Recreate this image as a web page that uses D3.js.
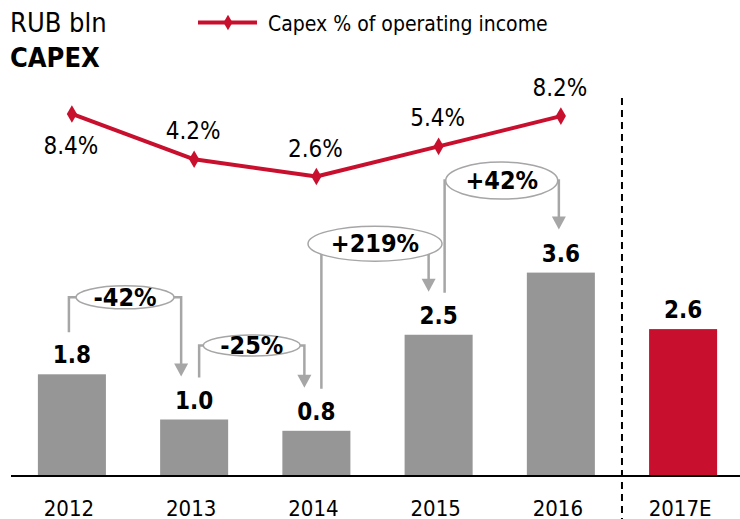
<!DOCTYPE html>
<html>
<head>
<meta charset="utf-8">
<script src="https://cdn.jsdelivr.net/npm/d3@7"></script>
<style>
  html, body { margin: 0; padding: 0; background: #fff; }
  svg { display: block; font-family: "DejaVu Sans Condensed", "DejaVu Sans", sans-serif; font-stretch: condensed; }
</style>
</head>
<body>
<svg id="chart" width="740" height="519"></svg>
<script>
// CAPEX, RUB bln
const years = ["2012", "2013", "2014", "2015", "2016", "2017E"];
const capex = [1.8, 1.0, 0.8, 2.5, 3.6, 2.6];
const estimateYear = "2017E";

// Capex as % of operating income (actual years only)
const pctYears = ["2012", "2013", "2014", "2015", "2016"];
const pctValues = [8.4, 4.2, 2.6, 5.4, 8.2];

// Year-on-year change callouts
const changeFrom = ["2012", "2013", "2014", "2015"];
const changeTo = ["2013", "2014", "2015", "2016"];
const changeLabels = ["-42%", "-25%", "+219%", "+42%"];

const RED = "#C8102E";
const GREY_BAR = "#969696";
const GREY_LINE = "#A6A6A6";

const svg = d3.select("#chart");

const x = d3.scaleBand().domain(years).range([11, 744]).paddingInner(0.4435).paddingOuter(0.22);
const y = d3.scaleLinear().domain([0, 4]).range([476, 250]);
const yPct = d3.scaleLinear().domain([0, 10]).range([204.6, 96.7]);
const cx = d => x(d) + x.bandwidth() / 2;

// Title
svg.append("text").attr("x", 10).attr("y", 32).attr("font-size", 27).attr("fill", "#000").text("RUB bln");
svg.append("text").attr("x", 10).attr("y", 67).attr("font-size", 27).attr("font-weight", "bold").attr("fill", "#000").text("CAPEX");

// Legend
const lg = svg.append("g");
lg.append("line").attr("x1", 198).attr("x2", 257).attr("y1", 22.5).attr("y2", 22.5)
  .attr("stroke", RED).attr("stroke-width", 4);
lg.append("path").attr("d", d3.symbol(d3.symbolDiamond, 70)()).attr("transform", "translate(228,22.5)").attr("fill", RED);
lg.append("text").attr("x", 268).attr("y", 31).attr("font-size", 21).attr("fill", "#000").text("Capex % of operating income");

// Divider between actuals and estimate
const divX = (cx("2016") + cx(estimateYear)) / 2;
svg.append("line").attr("x1", divX).attr("x2", divX).attr("y1", 98).attr("y2", 519)
  .attr("stroke", "#000").attr("stroke-width", 2).attr("stroke-dasharray", "7,5");

// Bars
svg.selectAll("rect.bar").data(years).join("rect").attr("class", "bar")
  .attr("x", d => x(d)).attr("width", x.bandwidth())
  .attr("y", (d, i) => y(capex[i])).attr("height", (d, i) => y(0) - y(capex[i]))
  .attr("fill", d => d === estimateYear ? RED : GREY_BAR);

// Bar value labels
svg.selectAll("text.val").data(years).join("text").attr("class", "val")
  .attr("x", d => cx(d)).attr("y", (d, i) => y(capex[i]) - 11)
  .attr("text-anchor", "middle").attr("font-size", 24).attr("font-weight", "bold").attr("fill", "#000")
  .text((d, i) => capex[i].toFixed(1));

// Baseline and category axis
const axis = d3.axisBottom(x).tickSize(0).tickPadding(0);
const ax = svg.append("g").attr("transform", `translate(0,${y(0)})`).call(axis);
ax.select(".domain").remove();
ax.selectAll("text").attr("font-size", 22).attr("fill", "#000").attr("dy", 0).attr("y", 39.5).attr("dx", -3)
  .attr("font-family", "DejaVu Sans Condensed, DejaVu Sans, sans-serif");
svg.append("line").attr("x1", 11).attr("x2", 740).attr("y1", y(0)).attr("y2", y(0))
  .attr("stroke", "#000").attr("stroke-width", 2);

// Change callouts
const annoLayout = [
  { dxL: -3, dxR: -13, lift: 35, rx: 49, ry: 11.5 },
  { dxL: 5, dxR: -12, lift: 32, rx: 48.5, ry: 10.5 },
  { dxL: 5, dxR: -10, lift: 48, rx: 67, ry: 17.5 },
  { dxL: 6, dxR: -2, lift: 49, rx: 56, ry: 18.5 }
];
const arrowW = 14, arrowH = 13;
changeLabels.forEach((lab, i) => {
  const L = annoLayout[i];
  const fi = years.indexOf(changeFrom[i]);
  const ti = years.indexOf(changeTo[i]);
  const xL = cx(changeFrom[i]) + L.dxL;
  const xR = cx(changeTo[i]) + L.dxR;
  const yStart = y(capex[fi]) - 42;
  const yTip = y(capex[ti]) - 43;
  const yc = Math.min(yStart, yTip) - L.lift;
  const ex = (xL + xR) / 2;
  const g = svg.append("g");
  g.append("path")
    .attr("d", `M${xL},${yStart}V${yc}H${xR}V${yTip - arrowH + 1}`)
    .attr("fill", "none").attr("stroke", GREY_LINE).attr("stroke-width", 2.5);
  g.append("path")
    .attr("d", `M${xR - arrowW / 2},${yTip - arrowH}L${xR + arrowW / 2},${yTip - arrowH}L${xR},${yTip}Z`)
    .attr("fill", GREY_LINE);
  g.append("ellipse").attr("cx", ex).attr("cy", yc).attr("rx", L.rx).attr("ry", L.ry)
    .attr("fill", "#fff").attr("stroke", GREY_LINE).attr("stroke-width", 1.5);
  g.append("text").attr("x", ex).attr("y", yc + 8.5).attr("text-anchor", "middle")
    .attr("font-size", 25).attr("font-weight", "bold").attr("fill", "#000").text(lab);
});

// Capex % line
const line = d3.line().x(d => cx(d[0])).y(d => yPct(d[1]));
const pts = pctYears.map((d, i) => [d, pctValues[i]]);
svg.append("path").datum(pts).attr("d", line).attr("fill", "none")
  .attr("stroke", RED).attr("stroke-width", 4).attr("stroke-linejoin", "round");
svg.selectAll("path.mk").data(pts).join("path").attr("class", "mk")
  .attr("d", d3.symbol(d3.symbolDiamond, 90)())
  .attr("transform", d => `translate(${cx(d[0])},${yPct(d[1])})`).attr("fill", RED);
svg.selectAll("text.pct").data(pts).join("text").attr("class", "pct")
  .attr("x", d => cx(d[0]) - 1)
  .attr("y", (d, i) => i === 0 ? yPct(d[1]) + 40 : yPct(d[1]) - 20)
  .attr("text-anchor", "middle").attr("font-size", 24).attr("fill", "#000")
  .text(d => d[1].toFixed(1) + "%");
</script>
</body>
</html>
